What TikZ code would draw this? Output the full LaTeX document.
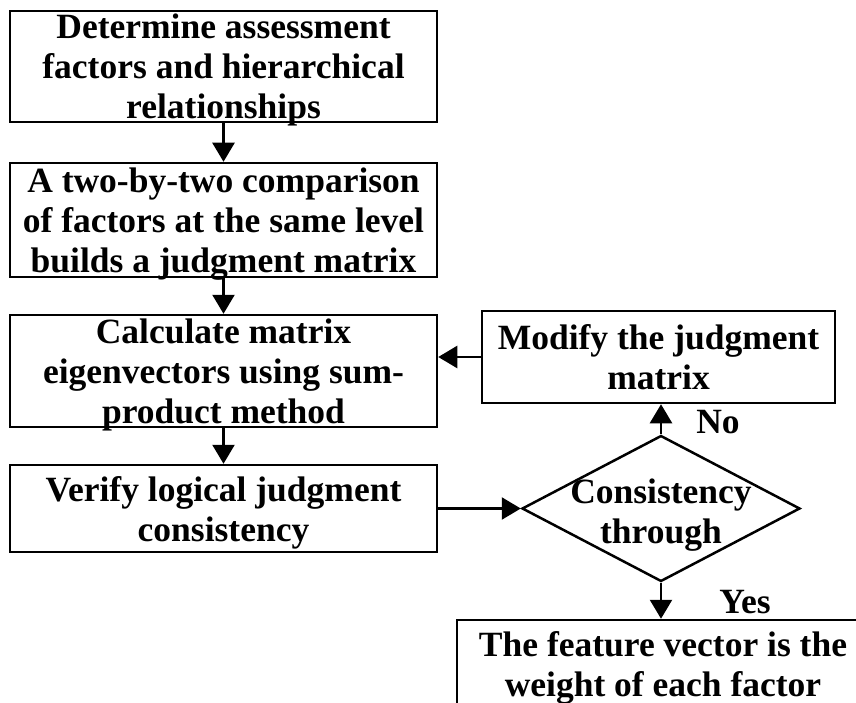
\documentclass[tikz,border=0pt]{standalone}
\usepackage{fontspec}
\setmainfont{Liberation Serif}
\usetikzlibrary{arrows.meta,shapes.geometric}
\begin{document}
\begin{tikzpicture}[x=1pt,y=-1pt,
  font=\fontsize{35.5}{40}\selectfont\bfseries,
  box/.style={draw,line width=2.5pt,rectangle,align=center,inner sep=0pt,text depth=0pt},
  flow/.style={line width=2.5pt,-{Triangle[width=22pt,length=19pt]}},
  lbl/.style={inner sep=0pt,align=center}]
\useasboundingbox (0,0) rectangle (856,703);
\clip (0,0) rectangle (856,703);
\node[box,minimum width=427pt,minimum height=111pt] (b1) at (223.5,66.5)
  {Determine assessment\\factors and hierarchical\\relationships};
\node[box,minimum width=427pt,minimum height=114pt] (b2) at (223.5,220)
  {A two-by-two comparison\\of factors at the same level\\builds a judgment matrix};
\node[box,minimum width=427pt,minimum height=112pt] (b3) at (223.5,371)
  {Calculate matrix\\eigenvectors using sum-\\product method};
\node[box,minimum width=427pt,minimum height=87pt] (b4) at (223.5,508.5)
  {Verify logical judgment\\consistency};
\node[box,minimum width=353pt,minimum height=92pt] (mod) at (658.5,357)
  {Modify the judgment\\matrix};
\node[draw,diamond,line width=2.5pt,minimum width=278pt,minimum height=146pt,inner sep=0pt] (dia) at (661,508.5) {};
\node[lbl] (diat) at (661,515.5) {Consistency\\through};
\node[box,minimum width=412pt,minimum height=88pt] (fin) at (663,664)
  {The feature vector is the\\weight of each factor};
\node[lbl] (no) at (718,422) {No};
\node[lbl] (yes) at (745,602) {Yes};
\draw[flow] (b1) -- (b2);
\draw[flow] (b2) -- (b3);
\draw[flow] (b3) -- (b4);
\draw[flow] (b4.east) -- (dia.west);
\draw[flow] (dia.north) -- (dia.north |- mod.south);
\draw[flow] (mod.west) -- (mod.west -| b3.east);
\draw[flow] (dia.south) -- (dia.south |- fin.north);
\end{tikzpicture}
\end{document}
